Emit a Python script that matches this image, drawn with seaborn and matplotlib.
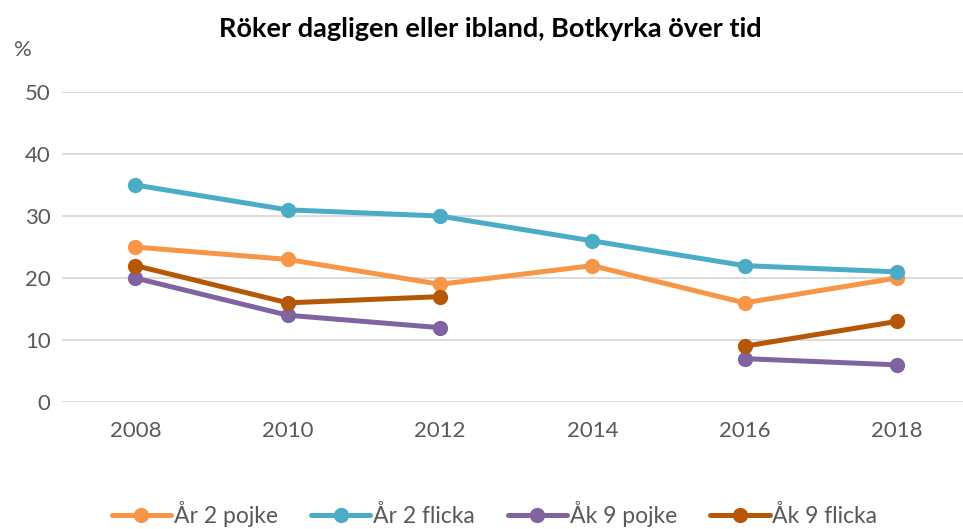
import pandas as pd
import numpy as np
import matplotlib
matplotlib.use('Agg')
import matplotlib.pyplot as plt
import seaborn as sns

# data
years = [2008, 2010, 2012, 2014, 2016, 2018]
ar2_pojke = [25, 23, 19, 22, 16, 20]
ar2_flicka = [35, 31, 30, 26, 22, 21]
ak9_pojke = [20, 14, 12, np.nan, 7, 6]
ak9_flicka = [22, 16, 17, np.nan, 9, 13]
series_names = ['År 2 pojke', 'År 2 flicka', 'Åk 9 pojke', 'Åk 9 flicka']
colors = ['#F79646', '#4BACC6', '#8064A2', '#B65708']

# long format, split series at gaps so lines are not joined over missing years
rows = []
for name, vals in zip(series_names, [ar2_pojke, ar2_flicka, ak9_pojke, ak9_flicka]):
    seg = 0
    for yr, v in zip(years, vals):
        if pd.isna(v):
            seg += 1
            continue
        rows.append({'År': yr, 'Andel': v, 'Grupp': name, 'seg': seg})
df = pd.DataFrame(rows)

sns.set_style('white')
plt.rcParams['font.family'] = ['Lato', 'DejaVu Sans']
text_color = '#595959'

fig = plt.figure(figsize=(9.63, 5.29), dpi=100)
ax = fig.add_axes([0.064, 0.24, 0.936, 0.586])

sns.lineplot(data=df, x='År', y='Andel', hue='Grupp', units='seg', estimator=None,
             hue_order=series_names, palette=colors, marker='o', markersize=11,
             markeredgewidth=0, linewidth=3.6, ax=ax)

ax.set_xlim(2007.03, 2018.87)
ax.set_ylim(0, 50)
ax.set_xticks(years)
ax.set_yticks(range(0, 51, 10))
ax.grid(axis='y', color='#D9D9D9', linewidth=1.3)
ax.set_axisbelow(True)
for s in ax.spines.values():
    s.set_visible(False)
ax.tick_params(axis='both', length=0, labelsize=16, colors=text_color, pad=8)
ax.tick_params(axis='x', pad=14)
ax.set_xlabel('')
ax.set_ylabel('')

fig.text(0.509, 0.945, 'Röker dagligen eller ibland, Botkyrka över tid',
         ha='center', va='center', fontsize=19.5, fontweight='bold', color='black')
fig.text(0.024, 0.905, '%', ha='center', va='center', fontsize=16, color=text_color)

ax.legend(loc='lower center', bbox_to_anchor=(0.48, -0.47), ncol=4, frameon=False,
          fontsize=16.5, labelcolor=text_color, handlelength=2.6, handletextpad=0.1,
          columnspacing=1.45)

fig.savefig('out.png', dpi=100)
plt.close()
